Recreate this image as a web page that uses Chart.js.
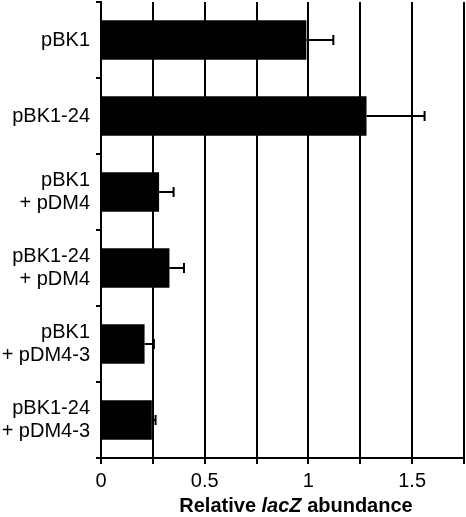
<!DOCTYPE html>
<html>
<head>
<meta charset="utf-8">
<script src="https://cdn.jsdelivr.net/npm/chart.js@4"></script>
<style>
    body { margin: 0; background: #fff; }
    #wrap { width: 466px; height: 517px; }
</style>
</head>
<body>
<div id="wrap"><canvas id="chartLacZ" width="466" height="517"></canvas></div>
<script>
var FONT = "'Liberation Sans', Arial, sans-serif";

var strains = [["pBK1"], ["pBK1-24"], ["pBK1", "+ pDM4"], ["pBK1-24", "+ pDM4"], ["pBK1", "+ pDM4-3"], ["pBK1-24", "+ pDM4-3"]];
var abundance = [0.99, 1.28, 0.28, 0.33, 0.21, 0.245];
var abundanceErr = [0.13, 0.28, 0.07, 0.07, 0.045, 0.018];
var tickLabels = ["0", "0.5", "1", "1.5"];

// error bars: only the positive side, with a small cap
var errorBarPlugin = {
    id: "errorBars",
    afterDatasetsDraw: function (chart) {
        var ctx = chart.ctx;
        var xScale = chart.scales.x;
        var meta = chart.getDatasetMeta(0);
        ctx.save();
        ctx.strokeStyle = "#000";
        ctx.lineWidth = 2;
        meta.data.forEach(function (bar, i) {
            var x0 = xScale.getPixelForValue(abundance[i]);
            var x1 = xScale.getPixelForValue(abundance[i] + abundanceErr[i]);
            ctx.beginPath();
            ctx.moveTo(x0, bar.y);
            ctx.lineTo(x1, bar.y);
            ctx.moveTo(x1, bar.y - 5);
            ctx.lineTo(x1, bar.y + 5);
            ctx.stroke();
        });
        ctx.restore();
    }
};

// axis title with italic gene name
var axisTitlePlugin = {
    id: "axisTitle",
    afterDraw: function (chart) {
        var ctx = chart.ctx;
        var parts = [
            { text: "Relative ", font: "bold 20px " + FONT },
            { text: "lacZ", font: "italic bold 20px " + FONT },
            { text: " abundance", font: "bold 20px " + FONT }
        ];
        ctx.save();
        var total = 0;
        parts.forEach(function (p) {
            ctx.font = p.font;
            p.w = ctx.measureText(p.text).width;
            total += p.w;
        });
        var x = 296 - total / 2;
        ctx.fillStyle = "#000";
        ctx.textBaseline = "alphabetic";
        ctx.textAlign = "left";
        parts.forEach(function (p) {
            ctx.font = p.font;
            ctx.fillText(p.text, x, 512);
            x += p.w;
        });
        ctx.restore();
    }
};

var ctx = document.getElementById("chartLacZ").getContext("2d");
new Chart(ctx, {
    type: "bar",
    data: {
        labels: strains,
        datasets: [{
            data: abundance,
            backgroundColor: "#000",
            borderWidth: 0,
            categoryPercentage: 1,
            barPercentage: 0.52
        }]
    },
    options: {
        indexAxis: "y",
        responsive: false,
        animation: false,
        devicePixelRatio: 1,
        layout: { padding: { top: 2, right: 2, left: 0, bottom: 0 } },
        plugins: {
            legend: { display: false },
            tooltip: { enabled: false }
        },
        scales: {
            x: {
                min: 0,
                max: 1.75,
                afterFit: function (scale) {
                    scale.height = 59;
                    scale.paddingLeft = 0;
                    scale.paddingRight = 0;
                },
                border: { color: "#000", width: 2 },
                grid: { color: "#000", lineWidth: 2, tickLength: 6, drawTicks: true },
                ticks: {
                    stepSize: 0.25,
                    color: "#000",
                    padding: 5,
                    maxRotation: 0,
                    autoSkip: false,
                    font: { family: FONT, size: 20 },
                    callback: function (value) {
                        var s = String(value);
                        return tickLabels.indexOf(s) >= 0 ? s : "";
                    }
                }
            },
            y: {
                afterFit: function (scale) {
                    scale.width = 101;
                    scale.paddingTop = 0;
                    scale.paddingBottom = 0;
                },
                border: { color: "#000", width: 2 },
                grid: { offset: true, drawOnChartArea: false, color: "#000", lineWidth: 2, tickLength: 5 },
                ticks: {
                    color: "#000",
                    padding: 6,
                    font: { family: FONT, size: 20, lineHeight: 1.15 }
                }
            }
        }
    },
    plugins: [errorBarPlugin, axisTitlePlugin]
});
</script>
</body>
</html>
